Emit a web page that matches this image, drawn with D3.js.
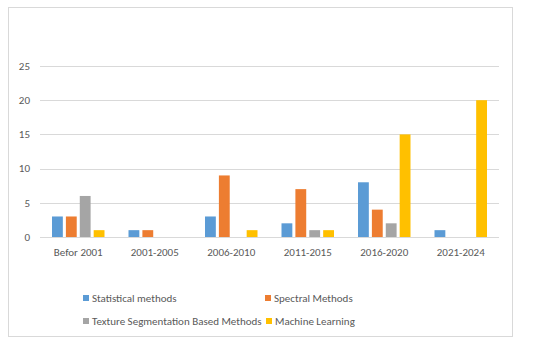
<!DOCTYPE html>
<html>
<head>
<meta charset="utf-8">
<script src="https://cdn.jsdelivr.net/npm/d3@7"></script>
<style>
  body { margin: 0; background: #fff; }
  text { font-family: Calibri, Carlito, "Open Sans", sans-serif; }
</style>
</head>
<body>
<div id="chart"></div>
<script>
var categories = ["Befor 2001", "2001-2005", "2006-2010", "2011-2015", "2016-2020", "2021-2024"];
var seriesNames = ["Statistical methods", "Spectral Methods", "Texture Segmentation Based Methods", "Machine Learning"];
var statistical = [3, 1, 3, 2, 8, 1];
var spectral = [3, 1, 9, 7, 4, 0];
var texture = [6, 0, 0, 1, 2, 0];
var machine = [1, 0, 1, 1, 15, 20];
var yTicks = [0, 5, 10, 15, 20, 25];

var colors = ["#5B9BD5", "#ED7D31", "#A5A5A5", "#FFC000"];
var allSeries = [statistical, spectral, texture, machine];

var svg = d3.select("#chart").append("svg")
    .attr("width", 550)
    .attr("height", 347);

// outer chart border
svg.append("rect")
    .attr("x", 8.5).attr("y", 7.5)
    .attr("width", 504).attr("height", 329)
    .attr("fill", "#fff")
    .attr("stroke", "#d9d9d9");

var x = d3.scaleBand()
    .domain(categories)
    .range([40, 499]);

var x1 = d3.scaleBand()
    .domain(d3.range(4))
    .range([12, x.bandwidth() - 12])
    .paddingInner(0.22);

var y = d3.scaleLinear()
    .domain([0, 25])
    .range([237, 66]);

// gridlines
svg.append("g")
    .selectAll("line")
    .data(yTicks)
    .enter()
    .append("line")
    .attr("x1", 40).attr("x2", 499)
    .attr("y1", d => Math.round(y(d)) + 0.5)
    .attr("y2", d => Math.round(y(d)) + 0.5)
    .attr("stroke", "#d9d9d9");

// y tick labels
svg.append("g")
    .selectAll("text")
    .data(yTicks)
    .enter()
    .append("text")
    .attr("x", 30)
    .attr("y", d => y(d))
    .attr("dy", "0.35em")
    .attr("text-anchor", "end")
    .style("font-size", "11px")
    .attr("fill", "#595959")
    .text(d => d);

// bars
var groups = svg.append("g")
    .selectAll("g")
    .data(categories)
    .enter()
    .append("g")
    .attr("transform", d => "translate(" + x(d) + ",0)");

groups.selectAll("rect")
    .data((d, i) => allSeries.map((s, k) => ({ k: k, v: s[i] })))
    .enter()
    .append("rect")
    .attr("x", d => x1(d.k))
    .attr("y", d => y(d.v))
    .attr("width", x1.bandwidth())
    .attr("height", d => y(0) - y(d.v))
    .attr("fill", d => colors[d.k]);

// category labels
svg.append("g")
    .selectAll("text")
    .data(categories)
    .enter()
    .append("text")
    .attr("x", d => x(d) + x.bandwidth() / 2)
    .attr("y", 256)
    .attr("text-anchor", "middle")
    .style("font-size", "11px")
    .attr("fill", "#595959")
    .text(d => d);

// legend
var legendPos = [[83, 298], [265, 298], [83, 321], [266, 321]];
var legend = svg.append("g")
    .selectAll("g")
    .data(seriesNames)
    .enter()
    .append("g")
    .attr("transform", (d, i) => "translate(" + legendPos[i][0] + "," + legendPos[i][1] + ")");

legend.append("rect")
    .attr("x", 0).attr("y", -3)
    .attr("width", 6).attr("height", 6)
    .attr("fill", (d, i) => colors[i]);

legend.append("text")
    .attr("x", 9)
    .attr("dy", "0.35em")
    .style("font-size", "11px")
    .attr("fill", "#595959")
    .text(d => d);
</script>
</body>
</html>
